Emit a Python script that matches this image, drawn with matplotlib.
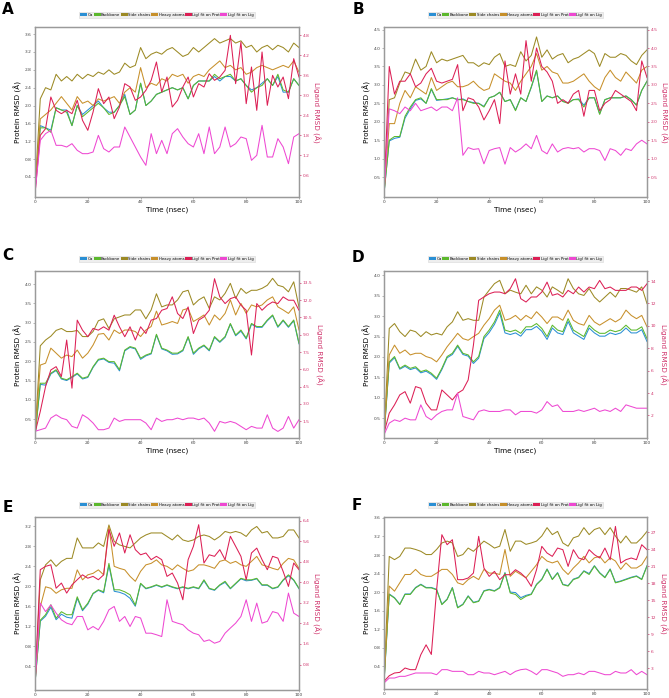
import numpy as np
import matplotlib
matplotlib.use("Agg")
import matplotlib.pyplot as plt
from matplotlib.patches import Patch
from matplotlib.ticker import FormatStrFormatter

# time axis (ns), sampled every 2 ns
TIME = list(range(0, 101, 2))

LABELS = ["C\u03b1", "Backbone", "Side chains", "Heavy atoms", "Lig) fit on Prot", "Lig) fit on Lig"]
COLORS = ["#2a8fd4", "#5cb82d", "#9c8a25", "#c7902b", "#dc1f55", "#ee48d2"]

# ---------------- panel A ----------------
a_ca = [0.10, 1.55, 1.50, 1.45, 1.95, 1.90, 1.90, 1.55, 2.00, 1.80,
        1.90, 2.00, 2.10, 1.95, 1.85, 1.85, 2.00, 2.25, 1.80, 1.90,
        2.50, 2.00, 2.10, 2.25, 2.30, 2.35, 2.40, 2.35, 2.40, 2.15,
        2.45, 2.55, 2.55, 2.55, 2.65, 2.55, 2.65, 2.65, 2.55, 2.60,
        2.45, 2.35, 2.40, 2.50, 2.60, 2.45, 2.65, 2.30, 2.30, 2.60,
        2.45]
a_back = [0.10, 1.50, 1.50, 1.40, 1.95, 1.90, 1.85, 1.55, 2.00, 1.75,
          1.85, 1.95, 2.05, 1.95, 1.80, 1.85, 2.00, 2.20, 1.80, 1.90,
          2.50, 2.00, 2.10, 2.25, 2.30, 2.35, 2.40, 2.35, 2.40, 2.15,
          2.45, 2.55, 2.55, 2.55, 2.70, 2.60, 2.65, 2.70, 2.55, 2.60,
          2.45, 2.30, 2.40, 2.45, 2.60, 2.45, 2.70, 2.35, 2.30, 2.60,
          2.45]
a_side = [0.10, 2.15, 2.40, 2.35, 2.70, 2.55, 2.65, 2.55, 2.70, 2.60,
          2.70, 2.65, 2.75, 2.70, 2.80, 2.70, 2.75, 2.95, 2.85, 2.90,
          3.30, 3.05, 3.15, 3.20, 3.15, 3.25, 3.30, 3.20, 3.10, 3.15,
          3.30, 3.20, 3.30, 3.40, 3.50, 3.40, 3.45, 3.50, 3.40, 3.45,
          3.30, 3.35, 3.20, 3.30, 3.35, 3.25, 3.35, 3.30, 3.20, 3.40,
          3.30]
a_heavy = [0.10, 1.70, 1.80, 1.90, 2.05, 2.20, 2.05, 1.90, 2.20, 2.05,
           2.10, 2.00, 2.15, 2.10, 2.15, 2.20, 2.05, 2.30, 2.40, 2.30,
           2.85, 2.40, 2.50, 2.45, 2.60, 2.55, 2.70, 2.65, 2.70, 2.50,
           2.65, 2.70, 2.65, 2.80, 2.90, 3.00, 2.85, 2.90, 2.80, 2.85,
           2.70, 2.75, 2.85, 2.90, 2.85, 2.80, 2.85, 2.90, 2.85, 3.00,
           2.75]
a_lprot = [0.05, 1.80, 2.00, 2.95, 2.55, 2.45, 2.55, 2.45, 2.85, 2.25,
           1.95, 2.50, 3.20, 2.75, 2.95, 2.30, 2.65, 3.35, 3.25, 2.85,
           2.95, 3.15, 3.45, 4.00, 3.10, 3.55, 2.65, 2.85, 3.25, 3.55,
           2.95, 3.35, 3.25, 3.65, 3.45, 3.55, 3.75, 4.80, 3.35, 4.60,
           2.75, 3.85, 2.55, 4.30, 2.70, 3.60, 3.25, 3.55, 2.90, 4.10,
           3.55]
a_llig = [0.05, 1.65, 1.85, 1.95, 1.50, 1.50, 1.45, 1.55, 1.35, 1.25,
          1.25, 1.30, 1.80, 1.40, 1.30, 1.45, 1.45, 2.05, 1.75, 1.45,
          1.15, 0.90, 1.85, 1.25, 1.65, 1.25, 1.85, 2.00, 1.75, 1.55,
          1.45, 1.85, 1.25, 2.05, 1.25, 1.45, 2.05, 1.45, 1.55, 1.75,
          1.70, 1.05, 1.20, 2.10, 1.15, 1.15, 1.70, 1.45, 0.95, 1.75,
          1.85]

# ---------------- panel B ----------------
b_ca = [0.05, 1.48, 1.55, 1.58, 2.10, 2.35, 2.58, 2.62, 2.50, 2.88,
        2.58, 2.60, 2.62, 2.65, 2.60, 2.62, 2.55, 2.52, 2.50, 2.42,
        2.65, 2.70, 2.80, 2.55, 2.60, 2.32, 2.65, 2.55, 2.93, 3.38,
        2.55, 2.70, 2.65, 2.70, 2.55, 2.52, 2.60, 2.62, 2.45, 2.65,
        2.65, 2.22, 2.60, 2.65, 2.65, 2.65, 2.70, 2.60, 2.45, 2.85,
        3.10]
b_back = [0.05, 1.50, 1.60, 1.60, 2.15, 2.40, 2.60, 2.65, 2.50, 2.90,
          2.60, 2.60, 2.60, 2.65, 2.60, 2.60, 2.55, 2.50, 2.50, 2.40,
          2.65, 2.70, 2.80, 2.55, 2.60, 2.30, 2.65, 2.55, 2.95, 3.40,
          2.55, 2.70, 2.65, 2.70, 2.55, 2.50, 2.60, 2.60, 2.40, 2.65,
          2.65, 2.20, 2.60, 2.65, 2.65, 2.65, 2.70, 2.60, 2.45, 2.85,
          3.10]
b_side = [0.05, 2.60, 2.65, 3.05, 3.35, 3.30, 3.70, 3.40, 3.50, 3.90,
          3.60, 3.70, 3.65, 3.70, 3.75, 3.80, 3.60, 3.60, 3.50, 3.60,
          3.55, 3.75, 3.85, 3.50, 3.55, 3.50, 3.90, 3.65, 3.80, 4.30,
          3.75, 3.95, 3.70, 3.80, 3.85, 3.60, 3.70, 3.75, 3.85, 3.95,
          3.85, 3.50, 3.85, 3.75, 3.75, 3.85, 3.80, 3.65, 3.55, 3.80,
          3.95]
b_heavy = [0.05, 1.95, 1.95, 2.50, 2.85, 2.65, 2.95, 2.85, 2.75, 3.20,
           2.85, 2.95, 3.05, 3.10, 2.95, 2.95, 3.00, 3.10, 2.95, 2.85,
           2.90, 3.30, 3.20, 3.10, 3.05, 2.85, 3.10, 3.30, 3.50, 3.85,
           3.40, 3.50, 3.35, 3.30, 3.05, 3.05, 3.10, 3.20, 3.30, 3.10,
           2.95, 2.85, 3.20, 3.40, 3.20, 3.10, 3.35, 3.20, 3.05, 3.40,
           3.50]
b_lprot = [0.05, 3.50, 2.75, 3.10, 3.10, 3.30, 2.95, 3.05, 3.30, 3.45,
           3.10, 3.05, 3.10, 3.15, 3.55, 2.30, 2.65, 2.60, 2.40, 2.05,
           2.30, 2.60, 1.95, 3.65, 2.75, 3.30, 2.75, 4.20, 3.10, 4.00,
           3.50, 3.35, 3.10, 2.50, 2.60, 2.50, 2.75, 2.85, 2.15, 2.85,
           2.85, 2.30, 2.50, 2.60, 2.85, 2.75, 2.65, 2.55, 2.30, 3.65,
           3.20]
b_llig = [0.05, 2.35, 2.30, 2.22, 2.40, 2.30, 2.50, 2.30, 2.35, 2.40,
          2.30, 2.40, 2.40, 2.30, 2.65, 1.09, 1.30, 1.25, 1.27, 0.86,
          1.22, 1.27, 1.30, 0.85, 1.30, 1.18, 1.27, 1.40, 1.27, 1.63,
          1.22, 1.13, 1.40, 1.18, 1.27, 1.30, 1.27, 1.30, 1.18, 1.27,
          1.27, 1.22, 0.95, 1.27, 1.22, 1.09, 1.27, 1.22, 1.40, 1.50,
          1.40]

# ---------------- panel C ----------------
c_ca = [0.05, 1.40, 1.38, 1.67, 1.76, 1.54, 1.50, 1.58, 1.67, 1.54,
        1.58, 1.84, 2.03, 2.06, 1.97, 1.95, 1.75, 2.27, 2.36, 2.32,
        2.05, 2.14, 2.19, 2.68, 2.32, 2.27, 2.18, 2.19, 2.27, 2.62,
        2.18, 2.32, 2.40, 2.27, 2.62, 2.49, 2.62, 2.96, 2.66, 2.78,
        2.58, 2.96, 2.88, 2.88, 3.05, 3.18, 2.88, 3.05, 2.88, 3.05,
        2.45]
c_back = [0.05, 1.43, 1.43, 1.69, 1.78, 1.56, 1.52, 1.60, 1.69, 1.56,
          1.60, 1.86, 2.05, 2.08, 1.99, 1.99, 1.78, 2.29, 2.38, 2.34,
          2.08, 2.16, 2.21, 2.70, 2.34, 2.29, 2.21, 2.21, 2.29, 2.64,
          2.21, 2.34, 2.42, 2.29, 2.64, 2.51, 2.64, 2.98, 2.68, 2.81,
          2.60, 2.98, 2.90, 2.90, 3.07, 3.20, 2.90, 3.07, 2.90, 3.07,
          2.47]
c_side = [0.05, 2.40, 2.55, 2.65, 2.80, 2.85, 2.77, 2.77, 2.80, 2.64,
          2.64, 2.77, 3.05, 3.10, 2.85, 3.10, 3.15, 3.20, 3.20, 3.33,
          3.33, 3.10, 3.33, 3.75, 3.41, 3.46, 3.46, 3.59, 3.80, 3.84,
          3.46, 3.59, 3.67, 3.37, 3.67, 3.59, 3.76, 4.02, 3.63, 3.89,
          3.76, 3.84, 3.84, 3.89, 3.97, 4.15, 3.97, 3.93, 3.80, 4.06,
          3.40]
c_heavy = [0.05, 1.90, 1.95, 2.34, 2.21, 2.08, 2.16, 2.12, 2.29, 2.08,
           2.21, 2.42, 2.70, 2.72, 2.55, 2.81, 2.72, 2.81, 2.81, 2.77,
           2.64, 2.81, 2.90, 3.30, 2.94, 2.98, 3.03, 2.98, 3.33, 3.37,
           3.03, 3.11, 3.20, 2.94, 3.20, 3.07, 3.24, 3.59, 3.20, 3.50,
           3.24, 3.46, 3.41, 3.46, 3.59, 3.67, 3.41, 3.33, 3.24, 3.41,
           2.81]
c_lprot = [0.46, 2.34, 4.50, 5.94, 6.23, 5.37, 8.54, 4.36, 10.27, 9.40,
           8.83, 9.55, 9.40, 9.69, 9.40, 10.70, 9.69, 8.83, 9.69, 8.54,
           9.69, 9.11, 10.27, 10.41, 11.13, 11.28, 12.30, 10.85, 10.41, 11.42,
           9.11, 10.27, 10.56, 11.13, 13.87, 12.29, 11.71, 12.14, 12.29, 11.57,
           11.13, 7.24, 11.71, 11.13, 11.57, 11.85, 11.71, 12.29, 12.00, 12.00,
           11.13]
c_llig = [0.61, 0.75, 0.89, 1.76, 2.05, 1.76, 1.62, 1.04, 0.89, 2.05,
          1.76, 1.33, 0.75, 0.75, 0.89, 1.76, 1.47, 1.62, 1.62, 1.62,
          1.62, 1.33, 0.75, 1.76, 1.47, 1.62, 1.62, 1.76, 1.62, 1.76,
          1.76, 1.62, 1.76, 1.33, 0.61, 1.47, 1.33, 1.47, 1.33, 1.04,
          0.75, 1.04, 0.89, 0.89, 2.05, 0.89, 0.60, 0.89, 1.90, 0.89,
          1.62]

# ---------------- panel D ----------------
d_ca = [0.05, 1.85, 1.98, 1.70, 1.77, 1.69, 1.73, 1.61, 1.65, 1.57,
        1.45, 1.69, 1.98, 2.06, 2.26, 2.06, 2.02, 1.84, 1.97, 2.45,
        2.60, 2.80, 3.08, 2.59, 2.55, 2.59, 2.51, 2.67, 2.67, 2.75,
        2.63, 2.43, 2.71, 2.59, 2.55, 2.87, 2.59, 2.51, 2.43, 2.71,
        2.59, 2.51, 2.51, 2.59, 2.55, 2.59, 2.71, 2.59, 2.59, 2.67,
        2.38]
d_back = [0.05, 1.88, 2.01, 1.72, 1.80, 1.72, 1.76, 1.64, 1.68, 1.60,
          1.48, 1.72, 2.01, 2.09, 2.29, 2.09, 2.05, 1.88, 2.01, 2.50,
          2.66, 2.86, 3.15, 2.66, 2.62, 2.66, 2.58, 2.74, 2.74, 2.82,
          2.70, 2.50, 2.78, 2.66, 2.62, 2.94, 2.66, 2.58, 2.50, 2.78,
          2.66, 2.58, 2.58, 2.66, 2.62, 2.66, 2.78, 2.66, 2.66, 2.74,
          2.45]
d_side = [0.05, 2.70, 2.82, 2.62, 2.50, 2.66, 2.62, 2.50, 2.62, 2.54,
          2.58, 2.54, 2.74, 2.86, 3.11, 2.90, 2.94, 2.90, 2.90, 3.47,
          3.64, 3.80, 3.88, 3.55, 3.64, 3.59, 3.55, 3.76, 3.55, 3.72,
          3.64, 3.47, 3.72, 3.64, 3.55, 3.92, 3.68, 3.55, 3.51, 3.68,
          3.47, 3.35, 3.47, 3.59, 3.47, 3.68, 3.68, 3.64, 3.59, 3.72,
          3.31]
d_heavy = [0.05, 2.05, 2.29, 2.09, 2.17, 2.05, 2.09, 2.09, 2.01, 1.97,
           1.88, 2.05, 2.25, 2.41, 2.58, 2.45, 2.41, 2.50, 2.58, 2.78,
           2.94, 3.15, 3.27, 2.90, 2.94, 3.02, 2.90, 3.02, 2.94, 3.11,
           2.98, 2.82, 2.98, 2.98, 2.90, 3.15, 2.90, 2.82, 2.78, 3.02,
           2.86, 2.78, 2.86, 2.94, 2.86, 2.94, 3.15, 3.02, 2.94, 3.02,
           2.74]
d_lprot = [0.43, 2.21, 2.95, 3.84, 4.13, 3.10, 4.58, 4.43, 3.10, 2.50,
           2.50, 4.28, 3.84, 3.39, 3.99, 4.28, 5.17, 8.28, 12.28, 12.58,
           12.87, 13.02, 13.02, 12.87, 13.32, 14.21, 12.43, 12.13, 12.58, 12.58,
           13.02, 13.91, 12.73, 12.87, 12.58, 13.17, 12.87, 13.47, 13.02, 13.47,
           13.32, 14.06, 13.32, 13.47, 13.17, 13.17, 13.17, 13.47, 13.47, 13.17,
           13.76]
d_llig = [0.28, 1.32, 1.61, 1.47, 1.76, 1.61, 1.61, 2.95, 1.91, 1.61,
          2.06, 2.36, 2.50, 2.50, 3.99, 1.91, 1.76, 1.61, 2.36, 2.50,
          2.36, 2.36, 2.36, 2.50, 2.50, 2.06, 2.36, 2.36, 2.36, 2.21,
          2.50, 3.24, 2.80, 2.95, 2.36, 2.36, 2.36, 2.50, 2.36, 2.50,
          2.65, 2.36, 2.50, 2.36, 2.65, 2.36, 2.95, 2.80, 2.65, 2.65,
          2.65]

# ---------------- panel E ----------------
e_ca = [0.05, 1.30, 1.40, 1.58, 1.33, 1.44, 1.38, 1.36, 1.76, 1.51,
        1.64, 1.85, 1.92, 1.87, 2.42, 1.90, 1.88, 1.84, 1.76, 1.60,
        2.05, 1.95, 1.98, 2.02, 1.98, 2.02, 1.98, 1.95, 1.98, 1.95,
        1.98, 1.95, 2.11, 1.95, 1.92, 2.02, 2.08, 1.95, 2.05, 2.15,
        2.11, 2.12, 2.15, 2.02, 2.02, 1.95, 1.98, 2.12, 2.21, 2.12,
        1.95]
e_back = [0.05, 1.32, 1.43, 1.63, 1.36, 1.49, 1.43, 1.43, 1.79, 1.53,
          1.66, 1.86, 1.93, 1.89, 2.46, 1.93, 1.93, 1.89, 1.83, 1.62,
          2.06, 1.96, 1.99, 2.03, 1.99, 2.03, 1.99, 1.96, 1.99, 1.96,
          1.99, 1.96, 2.13, 1.96, 1.93, 2.03, 2.10, 1.96, 2.06, 2.16,
          2.13, 2.13, 2.16, 2.03, 2.03, 1.96, 1.99, 2.13, 2.23, 2.13,
          1.96]
e_side = [0.05, 2.13, 2.43, 2.53, 2.40, 2.50, 2.56, 2.56, 2.97, 2.77,
          2.77, 2.77, 2.87, 2.80, 3.23, 2.90, 2.83, 2.80, 2.77, 2.87,
          2.97, 3.03, 3.07, 3.07, 3.07, 3.00, 2.93, 3.03, 2.93, 2.90,
          2.93, 3.00, 3.03, 3.00, 2.93, 3.00, 3.10, 3.07, 3.10, 3.07,
          3.00, 3.13, 3.20, 3.07, 3.10, 2.97, 2.97, 3.00, 3.13, 3.13,
          2.97]
e_heavy = [0.05, 1.59, 1.99, 1.96, 1.86, 1.93, 1.96, 1.96, 2.33, 2.13,
           2.23, 2.26, 2.33, 2.23, 3.20, 2.40, 2.36, 2.33, 2.20, 2.10,
           2.30, 2.43, 2.46, 2.53, 2.43, 2.40, 2.33, 2.43, 2.36, 2.30,
           2.33, 2.43, 2.43, 2.40, 2.36, 2.50, 2.53, 2.46, 2.50, 2.43,
           2.40, 2.50, 2.60, 2.43, 2.40, 2.36, 2.33, 2.46, 2.56, 2.53,
           2.36]
e_lprot = [0.05, 4.49, 4.62, 4.68, 3.77, 3.97, 3.58, 3.90, 4.10, 4.29,
           4.16, 4.23, 4.10, 4.29, 6.05, 5.40, 5.92, 5.14, 5.85, 5.27,
           5.07, 5.14, 4.88, 5.01, 4.88, 4.23, 4.36, 3.97, 3.32, 4.88,
           5.40, 6.24, 4.75, 5.07, 5.01, 5.27, 4.88, 5.79, 5.40, 5.01,
           4.10, 5.14, 5.33, 4.88, 4.49, 5.01, 4.94, 4.42, 3.84, 4.75,
           4.49]
e_llig = [0.05, 3.19, 2.86, 3.12, 2.80, 2.54, 2.41, 2.35, 2.67, 2.67,
          2.15, 2.28, 2.15, 2.48, 2.93, 3.06, 2.48, 2.67, 2.28, 2.67,
          2.61, 2.02, 2.02, 1.96, 1.89, 3.32, 2.48, 2.41, 2.35, 2.15,
          2.02, 1.96, 1.70, 1.76, 1.63, 1.70, 2.02, 2.22, 2.41, 2.67,
          3.32, 2.48, 3.19, 2.41, 2.48, 2.86, 2.80, 2.48, 3.58, 2.80,
          2.67]

# ---------------- panel F ----------------
f_ca = [0.05, 1.96, 1.88, 1.74, 1.96, 1.96, 2.10, 2.17, 2.10, 2.10,
        2.06, 1.74, 1.85, 2.10, 1.67, 1.74, 1.92, 1.78, 1.81, 2.03,
        2.06, 2.03, 2.10, 2.42, 2.00, 1.99, 1.88, 1.93, 1.96, 2.17,
        2.28, 2.50, 2.28, 2.42, 2.17, 2.14, 2.28, 2.32, 2.46, 2.40,
        2.57, 2.42, 2.32, 2.50, 2.21, 2.24, 2.28, 2.32, 2.35, 2.28,
        2.57]
f_back = [0.05, 1.95, 1.87, 1.73, 1.95, 1.95, 2.09, 2.16, 2.09, 2.09,
          2.05, 1.73, 1.84, 2.09, 1.66, 1.73, 1.91, 1.77, 1.80, 2.02,
          2.05, 2.02, 2.09, 2.41, 1.98, 1.95, 1.84, 1.91, 1.95, 2.16,
          2.27, 2.49, 2.27, 2.41, 2.16, 2.13, 2.27, 2.31, 2.45, 2.38,
          2.56, 2.41, 2.31, 2.49, 2.20, 2.23, 2.27, 2.31, 2.34, 2.27,
          2.56]
f_side = [0.05, 2.77, 2.70, 2.77, 2.95, 2.95, 2.92, 2.88, 2.81, 2.81,
          2.92, 3.06, 3.10, 3.06, 2.77, 2.81, 2.95, 2.88, 2.99, 3.10,
          3.03, 2.95, 2.99, 3.35, 2.88, 3.10, 3.10, 3.03, 3.06, 3.10,
          3.21, 3.39, 3.24, 3.31, 3.06, 2.99, 3.17, 3.21, 3.39, 3.24,
          3.35, 3.39, 3.24, 3.39, 3.21, 3.06, 3.21, 3.06, 3.06, 3.17,
          3.31]
f_heavy = [0.05, 2.13, 2.02, 2.20, 2.38, 2.38, 2.49, 2.38, 2.34, 2.34,
           2.41, 2.49, 2.49, 2.38, 2.20, 2.16, 2.27, 2.34, 2.27, 2.49,
           2.41, 2.41, 2.38, 2.92, 2.34, 2.45, 2.38, 2.31, 2.45, 2.59,
           2.77, 2.67, 2.63, 2.67, 2.49, 2.38, 2.52, 2.63, 2.77, 2.63,
           2.74, 2.77, 2.63, 2.74, 2.67, 2.49, 2.63, 2.52, 2.52, 2.59,
           2.77]
f_lprot = [0.64, 1.64, 2.12, 2.23, 3.00, 2.71, 2.71, 5.36, 7.10, 5.40,
           16.80, 26.57, 24.80, 25.69, 18.62, 18.62, 18.91, 19.79, 26.28, 20.68,
           19.20, 20.09, 18.62, 19.50, 19.50, 20.38, 19.79, 18.91, 17.44, 20.38,
           24.51, 23.33, 22.74, 24.21, 23.92, 20.97, 23.92, 22.45, 22.15, 23.92,
           23.04, 22.45, 24.21, 22.15, 28.04, 21.56, 22.15, 22.45, 22.15, 24.80,
           23.92]
f_llig = [0.35, 1.23, 1.23, 1.53, 1.53, 1.82, 2.12, 2.12, 2.12, 2.12,
          1.82, 2.71, 2.71, 2.41, 2.41, 2.41, 1.82, 1.82, 2.41, 2.12,
          2.12, 1.82, 2.12, 2.41, 1.82, 2.41, 2.71, 2.82, 2.41, 1.82,
          2.71, 2.71, 2.41, 2.12, 1.53, 1.82, 1.82, 2.12, 1.82, 2.41,
          2.41, 2.12, 1.82, 1.82, 2.41, 2.12, 2.12, 2.71, 1.82, 2.41,
          1.82]

# axis ranges and ticks
LEFT_TICKS = {
    "A": (np.arange(0.4, 3.61, 0.4), (-0.05, 3.76)),
    "B": (np.arange(0.5, 4.51, 0.5), (-0.04, 4.57)),
    "C": (np.arange(0.5, 4.01, 0.5), (0.01, 4.34)),
    "D": (np.arange(0.5, 4.01, 0.5), (0.01, 4.11)),
    "E": (np.arange(0.4, 3.21, 0.4), (-0.08, 3.39)),
    "F": (np.arange(0.4, 3.61, 0.4), (-0.09, 3.62)),
}
RIGHT_TICKS = {
    "A": (np.arange(0.6, 4.81, 0.6), (-0.05, 5.05), "%.1f"),
    "B": (np.arange(0.5, 4.51, 0.5), (-0.04, 4.57), "%.1f"),
    "C": (np.arange(1.5, 13.51, 1.5), (0.03, 14.54), "%.1f"),
    "D": (np.arange(2, 14.1, 2), (-0.01, 14.9), "%d"),
    "E": (np.arange(0.8, 6.41, 0.8), (-0.19, 6.54), "%.1f"),
    "F": (np.arange(3, 27.1, 3), (-0.71, 29.7), "%d"),
}

W, H = 669, 698
# axes boxes in pixels: left, top, right, bottom
BOXES = {
    "A": (35, 27, 299, 197), "B": (384, 27, 647, 197),
    "C": (35, 271, 299, 438), "D": (384, 271, 647, 438),
    "E": (35, 517, 299, 690), "F": (384, 517, 647, 689),
}
LETTER_POS = {"A": (8, 10), "B": (358, 10), "C": (8, 256),
              "D": (358, 257), "E": (8, 507), "F": (357, 506)}

PANELS = {
    "A": (a_ca, a_back, a_side, a_heavy, a_lprot, a_llig),
    "B": (b_ca, b_back, b_side, b_heavy, b_lprot, b_llig),
    "C": (c_ca, c_back, c_side, c_heavy, c_lprot, c_llig),
    "D": (d_ca, d_back, d_side, d_heavy, d_lprot, d_llig),
    "E": (e_ca, e_back, e_side, e_heavy, e_lprot, e_llig),
    "F": (f_ca, f_back, f_side, f_heavy, f_lprot, f_llig),
}

SPINE = "#9a9a9a"
TICKC = "#444444"
LIGC = "#d0346c"

fig = plt.figure(figsize=(W / 100, H / 100), dpi=100)

for key, series in PANELS.items():
    l, t, r, b = BOXES[key]
    ax = fig.add_axes([l / W, 1 - b / H, (r - l) / W, (b - t) / H])
    ax2 = ax.twinx()

    for vals, col in zip(series[:4], COLORS[:4]):
        ax.plot(TIME, vals, color=col, lw=0.75)
    for vals, col in zip(series[4:], COLORS[4:]):
        ax2.plot(TIME, vals, color=col, lw=0.75)

    ticks, lim = LEFT_TICKS[key]
    ax.set_xlim(0, 100)
    ax.set_ylim(*lim)
    ax.set_yticks(ticks)
    ax.yaxis.set_major_formatter(FormatStrFormatter("%.1f"))
    ax.set_xticks([0, 20, 40, 60, 80, 100])

    rticks, rlim, rfmt = RIGHT_TICKS[key]
    ax2.set_ylim(*rlim)
    ax2.set_yticks(rticks)
    ax2.yaxis.set_major_formatter(FormatStrFormatter(rfmt))

    for a in (ax, ax2):
        for sp in a.spines.values():
            sp.set_color(SPINE)
            sp.set_linewidth(0.9)
    ax.tick_params(labelsize=3.2, length=1.5, width=0.5, pad=1,
                   colors=SPINE, labelcolor=TICKC)
    ax2.tick_params(labelsize=3.2, length=1.5, width=0.5, pad=1,
                    colors=LIGC, labelcolor=LIGC)

    ax.set_xlabel("Time (nsec)", fontsize=5.2, labelpad=1.5)
    ax.set_ylabel("Protein RMSD (\u00c5)", fontsize=5.2, labelpad=2)
    ax2.set_ylabel("Ligand RMSD (\u00c5)", fontsize=5.2, color=LIGC,
                   rotation=270, va="bottom", labelpad=2)

    handles = [Patch(facecolor=c, edgecolor="none") for c in COLORS]
    hpx = b - t
    leg = ax2.legend(handles, LABELS, ncol=6, loc="center",
                     bbox_to_anchor=(0.5, 1 + 12 / hpx), fontsize=2.8,
                     handlelength=1.8, handleheight=0.9, handletextpad=0.1,
                     columnspacing=0.15, borderpad=0.25, borderaxespad=0,
                     frameon=True, fancybox=False, framealpha=1)
    leg.get_frame().set_facecolor("#eeeeee")
    leg.get_frame().set_edgecolor("#d8d8d8")
    leg.get_frame().set_linewidth(0.4)

    lx, ly = LETTER_POS[key]
    fig.text(lx / W, 1 - ly / H, key, fontsize=11, fontweight="bold",
             ha="center", va="center")

fig.savefig("out.png", dpi=100)
